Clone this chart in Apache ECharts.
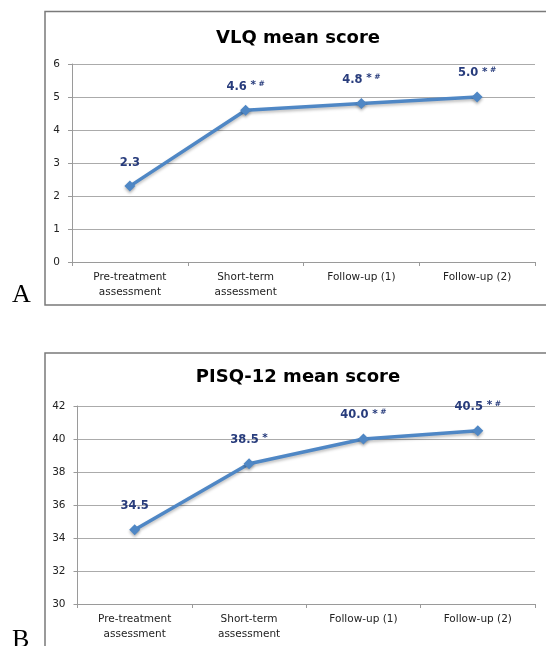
<!DOCTYPE html>
<html><head><meta charset="utf-8">
<script src="https://cdn.jsdelivr.net/npm/echarts@6/dist/echarts.min.js"></script>
<style>html,body{margin:0;padding:0;background:#fff}#c{width:546px;height:646px}</style>
</head><body><div id="c"></div>
<script>
// ---- data ----
const categories = ['Pre-treatment\nassessment', 'Short-term\nassessment', 'Follow-up (1)', 'Follow-up (2)'];
const vlqValues = [2.3, 4.6, 4.8, 5.0];
const vlqMarks = ['', '*#', '*#', '*#'];
const pisqValues = [34.5, 38.5, 40.0, 40.5];
const pisqMarks = ['', '*', '*#', '*#'];
const vlqTicks = [0, 1, 2, 3, 4, 5, 6];
const pisqTicks = [30, 32, 34, 36, 38, 40, 42];
const titleA = 'VLQ mean score';
const titleB = 'PISQ-12 mean score';

// ---- styling ----
const LINE = '#4F87C5';
const LABEL = '#283C7C';
const GRID_C = '#ABABAB';
const AX_C = '#9A9A9A';
const FONT = '"DejaVu Sans", Verdana, sans-serif';

function labelFmt(marks) {
  return function (p) {
    const m = marks[p.dataIndex];
    let s = '{v|' + p.value.toFixed(1) + '}';
    if (m.indexOf('*') >= 0) s += '{a| *}';
    if (m.indexOf('#') >= 0) s += '{h| #}';
    return s;
  };
}
const rich = {
  v: { fontFamily: FONT, fontWeight: 'bold', fontSize: 11.5, color: LABEL, lineHeight: 14 },
  a: { fontFamily: FONT, fontWeight: 'bold', fontSize: 10.5, color: LABEL, lineHeight: 14, verticalAlign: 'top' },
  h: { fontFamily: FONT, fontWeight: 'bold', fontSize: 7.5, color: LABEL, lineHeight: 14, verticalAlign: 'top' }
};

function xAx(gi) {
  return {
    type: 'category', gridIndex: gi, data: categories, boundaryGap: true,
    axisLine: { lineStyle: { color: AX_C, width: 1 } },
    axisTick: { show: true, length: 4, lineStyle: { color: AX_C } },
    axisLabel: { fontFamily: FONT, fontSize: 10.5, color: '#222', margin: 8, lineHeight: 15, interval: 0 },
    splitLine: { show: false }
  };
}
function yAx(gi, ticks) {
  return {
    type: 'value', gridIndex: gi, min: ticks[0], max: ticks[ticks.length - 1],
    interval: ticks[1] - ticks[0],
    axisLine: { show: true, lineStyle: { color: AX_C, width: 1 } },
    axisTick: { show: true, length: 4, lineStyle: { color: AX_C } },
    axisLabel: { fontFamily: FONT, fontSize: 10.5, color: '#222', margin: 12 },
    splitLine: { show: true, lineStyle: { color: GRID_C, width: 1 } }
  };
}
function ser(gi, values, marks) {
  return {
    type: 'line', xAxisIndex: gi, yAxisIndex: gi, data: values,
    symbol: 'diamond', symbolSize: 11,
    lineStyle: { color: LINE, width: 3.5, shadowColor: 'rgba(0,0,0,0.25)', shadowBlur: 3, shadowOffsetY: 2 },
    itemStyle: { color: LINE, shadowColor: 'rgba(0,0,0,0.3)', shadowBlur: 3, shadowOffsetY: 2 },
    label: { show: true, position: 'top', distance: 11, formatter: labelFmt(marks), rich: rich },
    animation: false
  };
}

const chart = echarts.init(document.getElementById('c'), null, { renderer: 'canvas' });
chart.setOption({
  animation: false,
  grid: [
    { left: 72, right: 11, top: 64, height: 198 },
    { left: 77.5, right: 11, top: 406, height: 198 }
  ],
  xAxis: [xAx(0), xAx(1)],
  yAxis: [yAx(0, vlqTicks), yAx(1, pisqTicks)],
  series: [ser(0, vlqValues, vlqMarks), ser(1, pisqValues, pisqMarks)],
  graphic: [
    { type: 'rect', shape: { x: 45, y: 11.5, width: 520, height: 293.5 }, style: { fill: 'none', stroke: '#7A7A7A', lineWidth: 1.5 }, z: -1 },
    { type: 'rect', shape: { x: 45, y: 353, width: 520, height: 320 }, style: { fill: 'none', stroke: '#7A7A7A', lineWidth: 1.5 }, z: -1 },
    { type: 'text', style: { text: titleA, x: 298, y: 38, align: 'center', verticalAlign: 'middle', font: 'bold 18px "DejaVu Sans", Verdana, sans-serif', fill: '#000' } },
    { type: 'text', style: { text: titleB, x: 298, y: 377, align: 'center', verticalAlign: 'middle', font: 'bold 18px "DejaVu Sans", Verdana, sans-serif', fill: '#000' } },
    { type: 'text', style: { text: 'A', x: 12, y: 308, align: 'left', verticalAlign: 'bottom', font: '26px "Liberation Serif", serif', fill: '#000' } },
    { type: 'text', style: { text: 'B', x: 12, y: 653, align: 'left', verticalAlign: 'bottom', font: '26px "Liberation Serif", serif', fill: '#000' } }
  ]
});
</script></body></html>
